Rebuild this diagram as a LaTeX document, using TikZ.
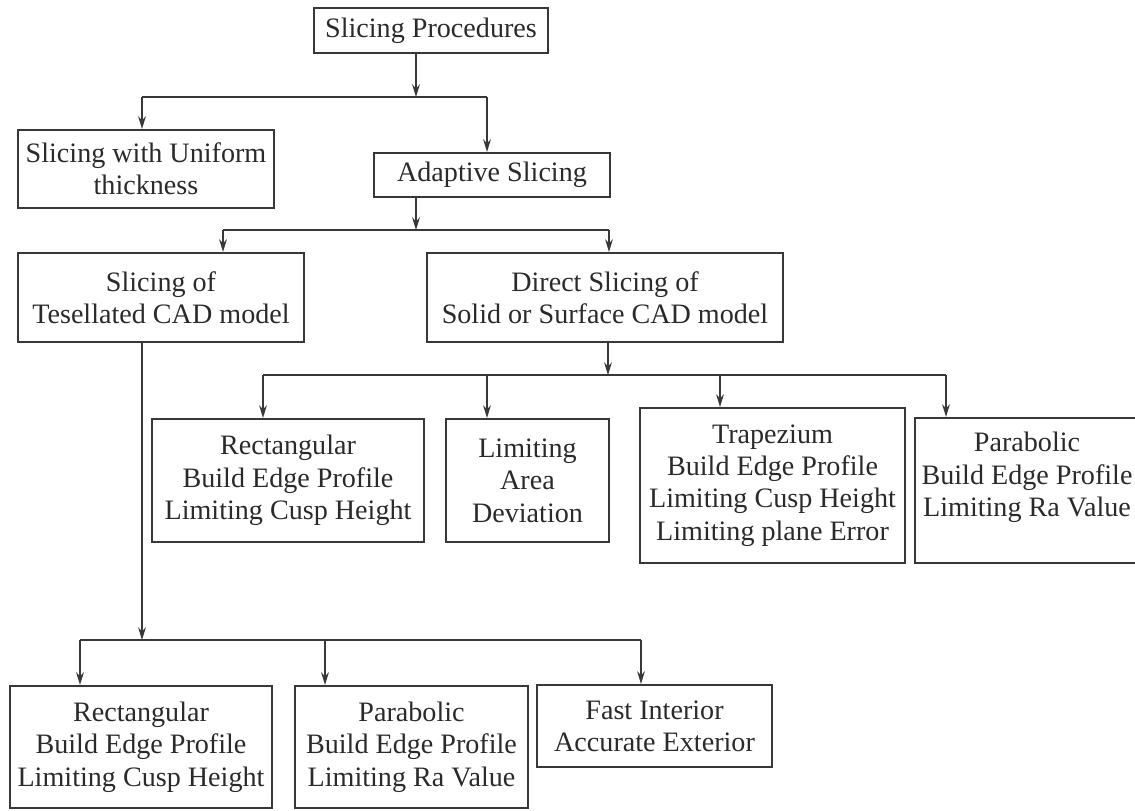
\documentclass[tikz,border=0pt]{standalone}
\usepackage{fontspec}
\setmainfont{Liberation Serif}
\usepackage{xcolor}
\usepackage{tikz}
\usetikzlibrary{arrows.meta}
\definecolor{boxgray}{HTML}{383838}
\definecolor{textgray}{HTML}{2A2A2A}

\tikzset{
  box/.style={draw=boxgray, line width=1.5pt, align=center, inner sep=0pt,
    text=textgray, font=\fontsize{20}{23}\selectfont},
  link/.style={draw=boxgray, line width=1.2pt},
  arr/.style={link, -{Stealth[length=9pt, width=5.5pt]}}
}

\begin{document}
\begin{tikzpicture}[x=0.025cm, y=-0.025cm]
    \useasboundingbox (0,0) rectangle (1135,810);

    % Root
    \node[box, minimum width=5.85cm, minimum height=1.125cm] (proc) at (431,30.5) {Slicing Procedures};

    % Uniform vs adaptive
    \node[box, minimum width=6.4cm, minimum height=1.95cm] (uniform) at (146,169) {Slicing with Uniform\\thickness};
    \node[box, minimum width=5.9cm, minimum height=1.1cm] (adaptive) at (492,175) {Adaptive Slicing};

    % Model types
    \node[box, minimum width=7.15cm, minimum height=2.225cm] (tess) at (161,297.5) {Slicing of\\Tesellated CAD model};
    \node[box, minimum width=8.9cm, minimum height=2.225cm] (direct) at (605,297.5) {Direct Slicing of\\Solid or Surface CAD model};

    % Direct slicing criteria
    \node[box, minimum width=6.8cm, minimum height=3.075cm] (rectA) at (288,480.5) {Rectangular\\Build Edge Profile\\Limiting Cusp Height};
    \node[box, minimum width=4.075cm, minimum height=3.075cm] (area) at (527.5,480.5) {Limiting\\Area\\Deviation};
    \node[box, minimum width=6.625cm, minimum height=3.875cm] (trap) at (772.5,485.5) {Trapezium\\Build Edge Profile\\Limiting Cusp Height\\Limiting plane Error};
    \node[box, minimum width=5.6cm, minimum height=3.625cm] (parabA) at (1027,490.5) {Parabolic\\Build Edge Profile\\Limiting Ra Value\\\mbox{}};

    % Tesellated slicing criteria
    \node[box, minimum width=6.55cm, minimum height=3.05cm] (rectB) at (141,747) {Rectangular\\Build Edge Profile\\Limiting Cusp Height};
    \node[box, minimum width=5.825cm, minimum height=3.05cm] (parabB) at (411.5,747) {Parabolic\\Build Edge Profile\\Limiting Ra Value};
    \node[box, minimum width=5.875cm, minimum height=2.05cm] (fast) at (654.5,726) {Fast Interior\\Accurate Exterior};

    % Bus below root
    \coordinate (b1) at (416,97);
    \coordinate (b1l) at (142,97);
    \coordinate (b1r) at (487,97);
    \draw[arr] (proc.south -| b1) -- (b1);
    \draw[link] (b1l) -- (b1r);
    \draw[arr] (b1l) -- (uniform.north -| b1l);
    \draw[arr] (b1r) -- (adaptive.north -| b1r);

    % Bus below adaptive
    \coordinate (b2) at (416,230);
    \coordinate (b2l) at (223,230);
    \coordinate (b2r) at (609,230);
    \draw[arr] (adaptive.south -| b2) -- (b2);
    \draw[link] (b2l) -- (b2r);
    \draw[arr] (b2l) -- (tess.north -| b2l);
    \draw[arr] (b2r) -- (direct.north -| b2r);

    % Bus below direct slicing
    \coordinate (b3) at (608,375);
    \coordinate (b3a) at (263,375);
    \coordinate (b3b) at (487,375);
    \coordinate (b3c) at (720,375);
    \coordinate (b3d) at (946,375);
    \draw[arr] (direct.south -| b3) -- (b3);
    \draw[link] (b3a) -- (b3d);
    \draw[arr] (b3a) -- (rectA.north -| b3a);
    \draw[arr] (b3b) -- (area.north -| b3b);
    \draw[arr] (b3c) -- (trap.north -| b3c);
    \draw[arr] (b3d) -- (parabA.north -| b3d);

    % Bus below tesellated slicing
    \coordinate (b4) at (142,640);
    \coordinate (b4a) at (80,640);
    \coordinate (b4b) at (325,640);
    \coordinate (b4c) at (641,640);
    \draw[arr] (tess.south -| b4) -- (b4);
    \draw[link] (b4a) -- (b4c);
    \draw[arr] (b4a) -- (rectB.north -| b4a);
    \draw[arr] (b4b) -- (parabB.north -| b4b);
    \draw[arr] (b4c) -- (fast.north -| b4c);
\end{tikzpicture}
\end{document}
